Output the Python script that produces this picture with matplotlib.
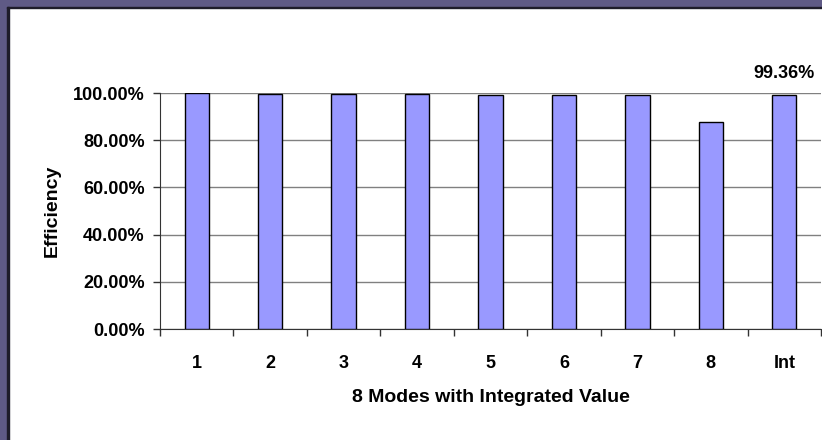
import numpy as np
import matplotlib.pyplot as plt
from matplotlib.patches import Rectangle
from matplotlib.ticker import FuncFormatter

categories = ['1', '2', '3', '4', '5', '6', '7', '8', 'Int']
efficiency = [100.0, 99.5, 99.4, 99.4, 99.1, 99.1, 99.0, 87.7, 99.36]
y_ticks = [0, 20, 40, 60, 80, 100]

plt.rcParams['font.family'] = ['Liberation Sans', 'DejaVu Sans']
plt.rcParams['font.weight'] = 'bold'

W, H = 822, 440
fig = plt.figure(figsize=(W / 100, H / 100), dpi=100)

# purple slide border (top and left) with dark inner line
purple = '#5f5a86'
dark = '#1e1c2a'
fig.patches.append(Rectangle((0, 1 - 7 / H), 1, 7 / H, transform=fig.transFigure,
                             color=purple, zorder=0))
fig.patches.append(Rectangle((0, 0), 7 / W, 1, transform=fig.transFigure,
                             color=purple, zorder=0))
fig.patches.append(Rectangle((7 / W, 0), 1.5 / W, 1 - 7 / H, transform=fig.transFigure,
                             color=dark, zorder=0))
fig.patches.append(Rectangle((7 / W, 1 - 8.5 / H), 1 - 7 / W, 1.5 / H,
                             transform=fig.transFigure, color=dark, zorder=0))

ax = fig.add_axes([160 / W, 1 - 329 / H, (821 - 160) / W, (329 - 93) / H])
x = np.arange(len(categories))
ax.bar(x, efficiency, width=0.33, color='#9999ff', edgecolor='#000000',
       linewidth=1.0, zorder=3)

ax.set_xlim(-0.5, len(categories) - 0.5)
ax.set_ylim(0, 100)
ax.set_yticks(y_ticks)
ax.yaxis.set_major_formatter(FuncFormatter(lambda v, p: f'{v:.2f}%'))
ax.set_xticks(x)
ax.set_xticklabels(categories)
ax.set_xticks(np.arange(len(categories) + 1) - 0.5, minor=True)
ax.tick_params(axis='x', which='major', length=0, pad=19, labelsize=13)
ax.tick_params(axis='x', which='minor', length=5, width=1, color='#333333')
ax.tick_params(axis='y', length=5, width=1, color='#333333', pad=6, labelsize=13)

ax.grid(axis='y', color='#808080', linewidth=1, zorder=0)
ax.spines['top'].set_visible(False)
ax.spines['right'].set_visible(False)
ax.spines['left'].set_color('#333333')
ax.spines['bottom'].set_color('#333333')

ax.set_ylabel('Efficiency', fontsize=14, fontweight='bold', labelpad=9)
ax.set_xlabel('8 Modes with Integrated Value', fontsize=14, fontweight='bold',
              labelpad=12)

ax.annotate(f'{efficiency[-1]:.2f}%', xy=(x[-1], efficiency[-1]),
            xytext=(0, 9), textcoords='offset points', ha='center', va='bottom',
            fontsize=13, fontweight='bold')

fig.savefig('out.png', dpi=100)
